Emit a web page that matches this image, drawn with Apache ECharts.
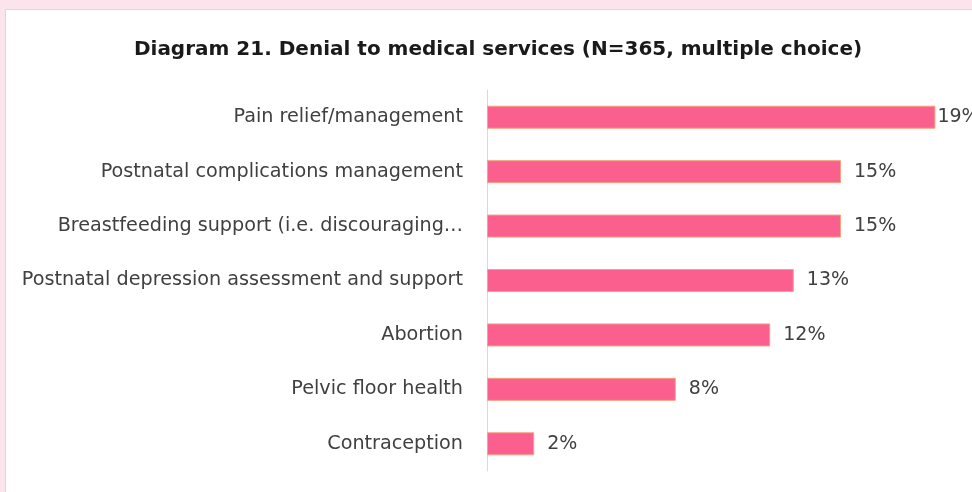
<!DOCTYPE html>
<html>
<head>
<meta charset="utf-8">
<script src="https://cdn.jsdelivr.net/npm/echarts@6/dist/echarts.min.js"></script>
<style>
  html, body { margin: 0; padding: 0; background: #fce4ec; }
  #chart { width: 972px; height: 492px; }
</style>
</head>
<body>
<div id="chart"></div>
<script>
// Reasons for denial, listed from the bottom of the axis up
const categories = [
  'Contraception',
  'Pelvic floor health',
  'Abortion',
  'Postnatal depression assessment and support',
  'Breastfeeding support (i.e. discouraging…',
  'Postnatal complications management',
  'Pain relief/management'
];
const shares = [2, 8, 12, 13, 15, 15, 19];
const titleText = 'Diagram 21. Denial to medical services (N=365, multiple choice)';

const FONT = '"DejaVu Sans", sans-serif';

const chart = echarts.init(document.getElementById('chart'), null, { renderer: 'canvas' });

const seriesData = shares.map((v, i) => {
  const item = { value: v };
  // the longest bar runs to the edge, so its label sits tight against it
  if (i === shares.length - 1) item.label = { distance: 2 };
  return item;
});

chart.setOption({
  backgroundColor: '#fce4ec',
  animation: false,
  graphic: [{
    type: 'rect',
    shape: { x: 5.5, y: 9.5, width: 980, height: 490 },
    style: { fill: '#ffffff', stroke: '#d9d9d9', lineWidth: 1 },
    z: -10
  }],
  title: {
    text: titleText,
    left: 493,
    textAlign: 'center',
    top: 35,
    textStyle: {
      fontFamily: FONT,
      fontWeight: 'bold',
      fontSize: 20,
      color: '#1a1a1a'
    }
  },
  grid: { left: 487, right: 13, top: 90, bottom: 21 },
  xAxis: {
    type: 'value',
    min: 0,
    max: 20,
    show: false
  },
  yAxis: {
    type: 'category',
    data: categories,
    axisLine: { show: true, lineStyle: { color: '#d9d9d9', width: 1 } },
    axisTick: { show: false },
    axisLabel: {
      margin: 24,
      fontFamily: FONT,
      fontSize: 19.2,
      color: '#404040'
    }
  },
  series: [{
    type: 'bar',
    data: seriesData,
    barWidth: 23,
    itemStyle: {
      color: '#fb5f8e',
      borderColor: '#f5a07e',
      borderWidth: 1
    },
    label: {
      show: true,
      position: 'right',
      distance: 13,
      formatter: '{c}%',
      fontFamily: FONT,
      fontSize: 19,
      color: '#404040'
    }
  }]
});
</script>
</body>
</html>
